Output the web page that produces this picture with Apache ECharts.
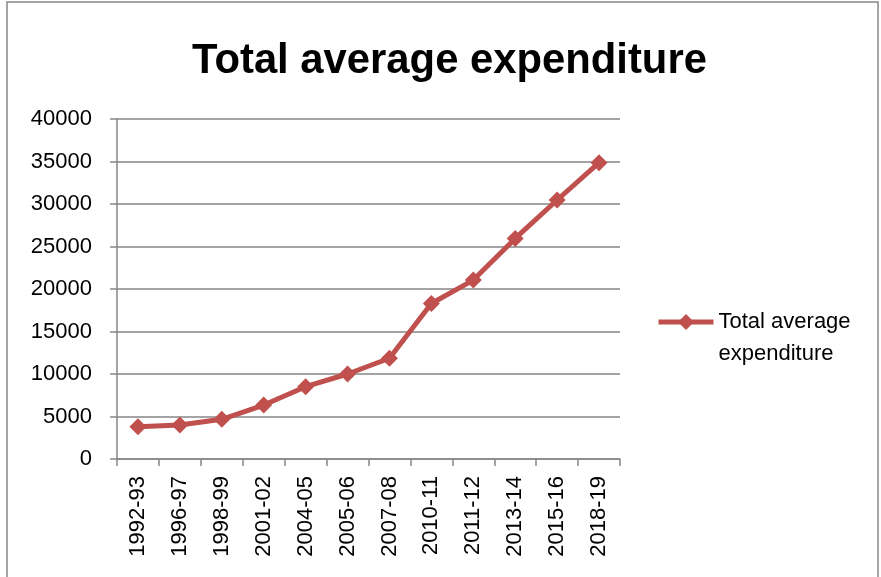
<!DOCTYPE html>
<html><head><meta charset="utf-8">
<script src="https://cdn.jsdelivr.net/npm/echarts@6/dist/echarts.min.js"></script>
<style>html,body{margin:0;padding:0;background:#fff}#c{width:881px;height:577px}</style>
</head><body><div id="c"></div>
<script>
const categories = ['1992-93','1996-97','1998-99','2001-02','2004-05','2005-06','2007-08','2010-11','2011-12','2013-14','2015-16','2018-19'];
const expenditure = [3800, 4000, 4670, 6350, 8510, 10000, 11850, 18300, 21050, 25950, 30470, 34860];
const seriesName = 'Total average expenditure';
const legendLines = ['Total average', 'expenditure'];
const titleText = 'Total average expenditure';

const FONT = 'Liberation Sans';
const chart = echarts.init(document.getElementById('c'), null, {renderer: 'canvas'});
chart.setOption({
  animation: false,
  backgroundColor: '#fff',
  graphic: [{type: 'rect', shape: {x: 7, y: 2, width: 871, height: 590}, style: {fill: 'none', stroke: '#888', lineWidth: 1.5}, silent: true}],
  title: {text: titleText, left: 187, top: 35, textStyle: {fontFamily: FONT, fontWeight: 'bold', fontSize: 41.8, color: '#000'}},
  grid: {left: 117, right: 261, top: 119, bottom: 118, containLabel: false},
  legend: {
    data: [seriesName], left: 656, top: 274, padding: 0, itemWidth: 55, itemHeight: 20, itemGap: 5,
    formatter: () => ' \n' + legendLines.join('\n'),
    lineStyle: {width: 5, color: '#C0504D'},
    itemStyle: {color: '#C0504D'},
    textStyle: {fontFamily: FONT, fontSize: 22, color: '#000', lineHeight: 32}
  },
  xAxis: {
    type: 'category', data: categories, boundaryGap: true,
    axisLine: {lineStyle: {color: '#868686', width: 1.5}},
    axisTick: {show: true, length: 7, lineStyle: {color: '#868686', width: 1.5}},
    axisLabel: {rotate: 90, fontFamily: FONT, fontSize: 22, color: '#000', margin: 17}
  },
  yAxis: {
    type: 'value', min: 0, max: 40000, interval: 5000,
    axisLine: {show: true, lineStyle: {color: '#868686', width: 1.5}},
    axisTick: {show: true, length: 7, lineStyle: {color: '#868686', width: 1.5}},
    splitLine: {lineStyle: {color: '#868686', width: 1.5}},
    axisLabel: {fontFamily: FONT, fontSize: 22, color: '#000', margin: 25, formatter: v => String(v)}
  },
  series: [{
    name: seriesName, type: 'line', data: expenditure,
    symbol: 'diamond', symbolSize: 17,
    lineStyle: {color: '#C0504D', width: 5},
    itemStyle: {color: '#C0504D'}
  }]
});
</script></body></html>
